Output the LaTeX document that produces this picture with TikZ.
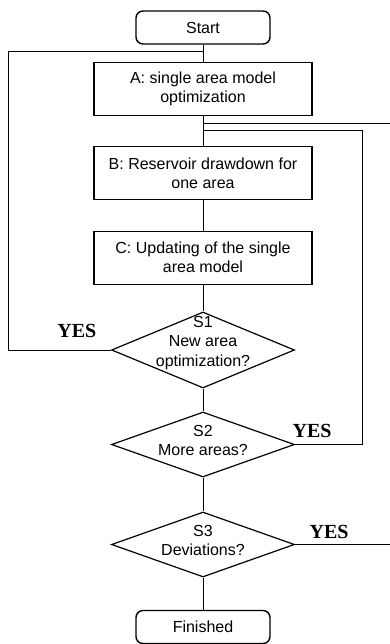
\documentclass[tikz,border=0pt]{standalone}
\usepackage{fontspec}
\setmainfont{Liberation Sans}
\newfontfamily\yesfont{Liberation Serif}
\usepackage{tikz}
\usetikzlibrary{positioning,shapes.geometric}

\begin{document}
\begin{tikzpicture}[
		node distance=30pt,
		line width=1pt,
		box/.style={draw, line width=1.4pt, align=center, font=\fontsize{16}{19}\selectfont,
				minimum width=218pt, minimum height=53pt, inner sep=2pt},
		term/.style={box, rounded corners=7pt, minimum width=134pt, minimum height=33pt},
		dec/.style={draw, diamond, line width=1.2pt, inner sep=0pt, minimum width=183pt},
		dtxt/.style={align=center, font=\fontsize{16}{19.5}\selectfont, inner sep=0pt},
		yes/.style={font=\yesfont\fontsize{20}{24}\selectfont\bfseries, inner sep=0pt}
		]
		\useasboundingbox (0,0) rectangle (390pt,-644pt);
		\node[term] (start) at (203pt,-27.5pt) {Start};
		\node[box, below=17pt of start] (a) {A: single area model\\ optimization};
		\node[box, below=of a] (b) {B: Reservoir drawdown for\\ one area};
		\node[box, below=of b] (c) {C: Updating of the single\\ area model};
		\node[dec, minimum height=76pt, label={[dtxt, yshift=7pt]center:S1\\ New area\\ optimization?}]
			(s1) at (203pt,-350pt) {};
		\node[dec, minimum height=65pt, label={[dtxt, yshift=4pt]center:S2\\ More areas?}]
			(s2) at (203pt,-444.5pt) {};
		\node[dec, minimum height=65pt, label={[dtxt, yshift=4pt]center:S3\\ Deviations?}]
			(s3) at (203pt,-544.5pt) {};
		\node[term] (fin) at (203pt,-627pt) {Finished};
		\node[yes] (yes1) at ([shift={(-34pt,19pt)}]s1.west) {YES};
		\node[yes] (yes2) at ([shift={(17pt,13.5pt)}]s2.east) {YES};
		\node[yes] (yes3) at ([shift={(34pt,12.5pt)}]s3.east) {YES};
		\coordinate (j1) at ([yshift=-7pt]start.south);
		\coordinate (j3) at ([yshift=-7pt]a.south);
		\coordinate (j2) at ([yshift=-14pt]a.south);
		\coordinate (outR) at (390pt,0);
		\foreach \a/\b in {start/a, a/b, b/c, c/s1, s1/s2, s2/s3, s3/fin}
		\draw (\a)--(\b);
		\draw (s1.west) -- ++(-102pt,0) |- (j1);
		\draw (s2.east) -- ++(67pt,0) |- (j2);
		\draw (s3.east) -- (s3.east -| outR);
		\draw (j3) -- (j3 -| outR);
	\end{tikzpicture}
\end{document}
